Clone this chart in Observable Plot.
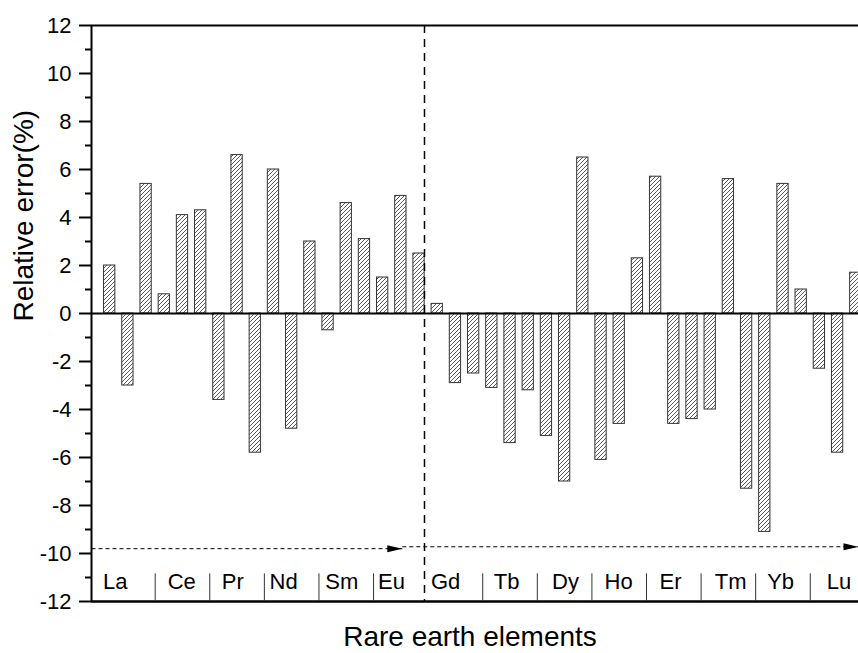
<!DOCTYPE html>
<html><head><meta charset="utf-8">
<script src="https://cdn.jsdelivr.net/npm/d3@7"></script>
<script src="https://cdn.jsdelivr.net/npm/@observablehq/plot@0.6"></script>
<style>html,body{margin:0;padding:0;background:#fff;overflow:hidden}</style>
</head><body><div id="chart"></div>
<script>
// Rare earth elements (three measurements each)
const elements = ["La","Ce","Pr","Nd","Sm","Eu","Gd","Tb","Dy","Ho","Er","Tm","Yb","Lu"];
// label positions along the bar-index axis
const labelPos = [0.3, 3.96, 6.76, 9.56, 12.75, 15.49, 18.46, 21.81, 25.05, 27.97, 30.82, 34.12, 36.87, 40.08];
// relative errors (%), three per element
const errors = [
  2.0, -3.0, 5.4,
  0.8, 4.1, 4.3,
  -3.6, 6.6, -5.8,
  6.0, -4.8, 3.0,
  -0.7, 4.6, 3.1,
  1.5, 4.9, 2.5,
  0.4, -2.9, -2.5,
  -3.1, -5.4, -3.2,
  -5.1, -7.0, 6.5,
  -6.1, -4.6, 2.3,
  5.7, -4.6, -4.4,
  -4.0, 5.6, -7.3,
  -9.1, 5.4, 1.0,
  -2.3, -5.8, 1.7
];
const yTicks = [-12, -10, -8, -6, -4, -2, 0, 2, 4, 6, 8, 10, 12];
const yMinor = [-11, -9, -7, -5, -3, -1, 1, 3, 5, 7, 9, 11];
const separators = [2.5, 5.5, 8.5, 11.5, 14.5, 20.5, 23.5, 26.5, 29.5, 32.5, 35.5, 38.5];
const divider = [17.3];
const arrows = [
  {from: -1, to: 16.08, y: -9.8},
  {from: 16.08, to: 41.15, y: -9.72}
];

const bars = errors.map((v, i) => ({i, v, el: elements[Math.floor(i / 3)]}));
const halfW = 0.31;

const arrowHead = {
  draw(ctx) {
    ctx.moveTo(0, 0);
    ctx.lineTo(-15, -3.5);
    ctx.lineTo(-15, 3.5);
    ctx.closePath();
  }
};

const svg = Plot.plot({
  width: 858,
  height: 653,
  marginLeft: 91,
  marginRight: 0,
  marginTop: 25,
  marginBottom: 52,
  style: {fontFamily: "'Liberation Sans', Arial, Helvetica, sans-serif", color: "black", background: "white", overflow: "hidden"},
  x: {domain: [-1, 41.15], axis: null},
  y: {domain: [-12, 12], axis: null},
  marks: [
    Plot.rect(bars, {
      x1: d => d.i - halfW, x2: d => d.i + halfW,
      y1: d => 0, y2: d => d.v,
      fill: "url(#hatch)", stroke: "#333", strokeWidth: 1, clip: true
    }),
    Plot.ruleY([0], {stroke: "black", strokeWidth: 2}),
    Plot.ruleY([12], {stroke: "black", strokeWidth: 2}),
    Plot.ruleY([-12], {stroke: "black", strokeWidth: 2.5}),
    Plot.ruleX([-1], {stroke: "black", strokeWidth: 2}),
    Plot.ruleX(divider, {stroke: "black", strokeWidth: 1.5, strokeDasharray: "8,6"}),
    Plot.ruleX(separators, {y1: -12, y2: -10.85, stroke: "#333", strokeWidth: 1}),
    Plot.link(arrows, {x1: "from", x2: "to", y1: "y", y2: "y", stroke: "black", strokeWidth: 1, strokeDasharray: "4,3"}),
    Plot.dot(arrows, {x: "to", y: "y", symbol: arrowHead, fill: "black", stroke: "none"}),
    Plot.axisY({ticks: yTicks, tickSize: 12, tickPadding: 8, fontSize: 22, strokeWidth: 2, tickFormat: d => String(d), label: null}),
    Plot.axisY({ticks: yMinor, tickSize: 6, text: null, strokeWidth: 2, label: null}),
    Plot.text(elements, {x: (d, i) => labelPos[i], text: d => d, frameAnchor: "bottom", lineAnchor: "bottom", dy: -13, fontSize: 22}),
    Plot.text(["Relative error(%)"], {frameAnchor: "left", rotate: -90, dx: -67, dy: 8, fontSize: 28, lineAnchor: "middle"}),
    Plot.text(["Rare earth elements"], {frameAnchor: "bottom", lineAnchor: "bottom", dy: 44, dx: -5, fontSize: 28})
  ]
});

const defs = d3.select(svg).insert("defs", ":first-child");
const pat = defs.append("pattern").attr("id", "hatch").attr("patternUnits", "userSpaceOnUse").attr("width", 4).attr("height", 4);
pat.append("rect").attr("width", 4).attr("height", 4).attr("fill", "white");
pat.append("path").attr("d", "M-1,1L1,-1M0,4L4,0M3,5L5,3").attr("stroke", "#333").attr("stroke-width", 0.8);

document.getElementById("chart").appendChild(svg);
</script>
</body></html>
